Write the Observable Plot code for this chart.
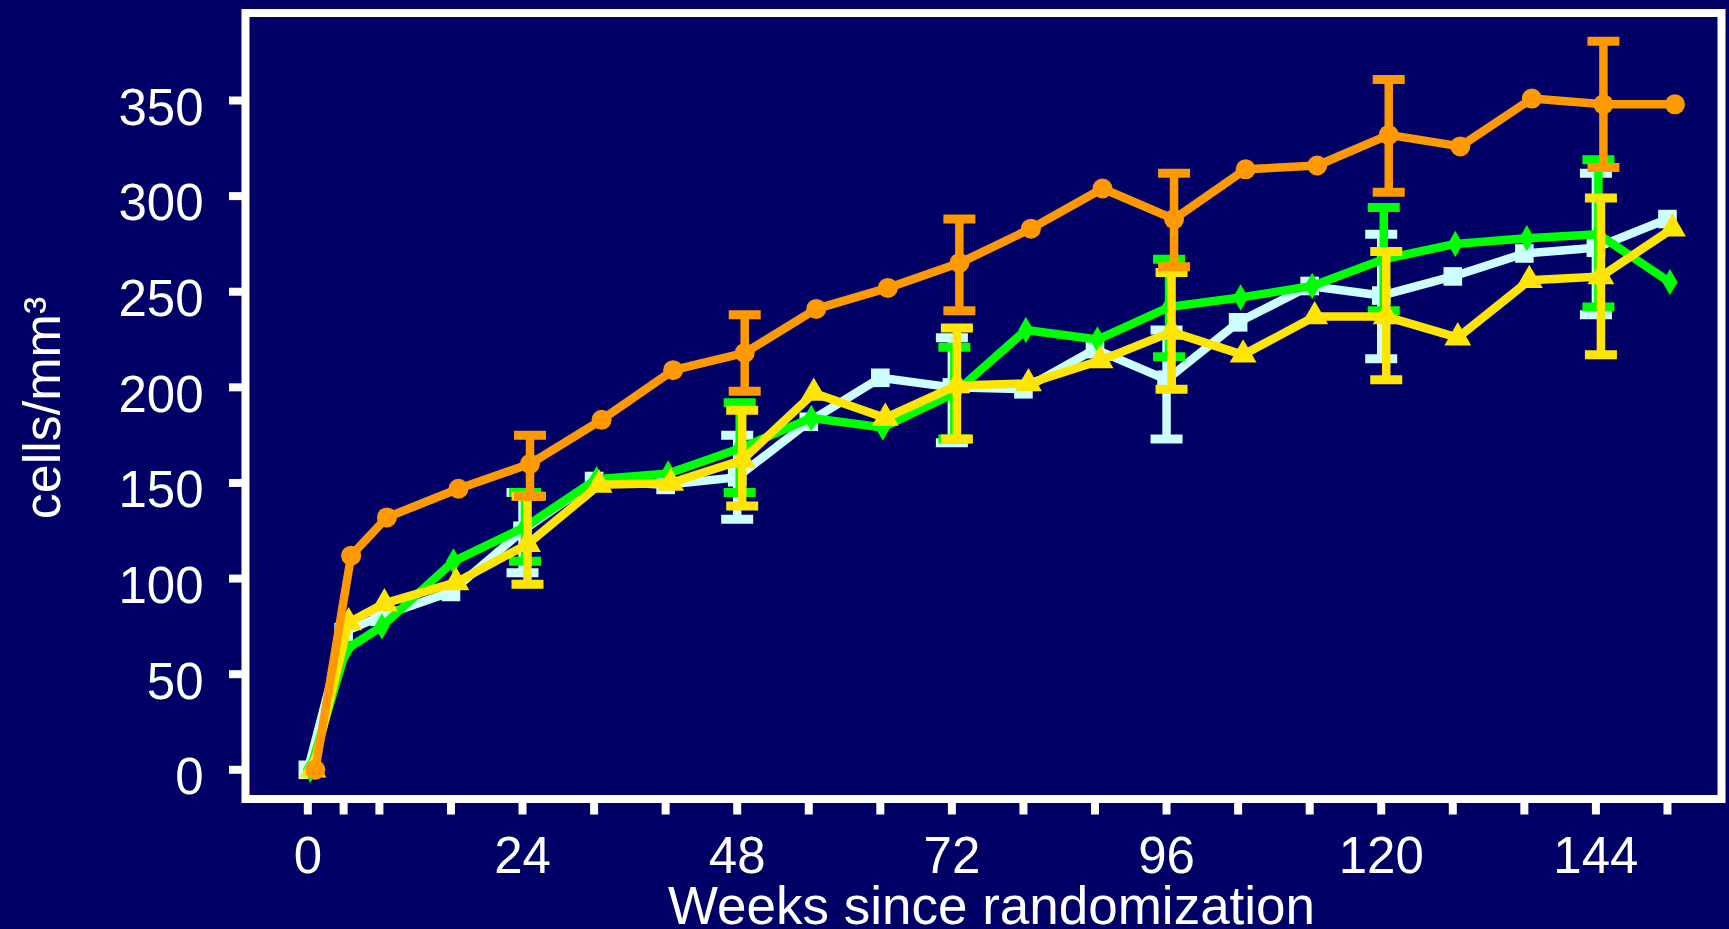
<!DOCTYPE html>
<html><head><meta charset="utf-8">
<script src="https://cdn.jsdelivr.net/npm/d3@7"></script>
<script src="https://cdn.jsdelivr.net/npm/@observablehq/plot@0.6"></script>
<style>html,body{margin:0;padding:0;background:#000066;overflow:hidden}</style>
</head><body><div id="chart"></div>
<script>
// Weeks since randomization
const weeks = [0,4,8,16,24,32,40,48,56,64,72,80,88,96,104,112,120,128,136,144,152];
const errWeeks = [24,48,72,96,120,144];
const tickWeeks = [0,4,8,16,24,32,40,48,56,64,72,80,88,96,104,112,120,128,136,144,152];
const labelWeeks = [0,24,48,72,96,120,144];
const yTicks = [0,50,100,150,200,250,300,350];

// Series values (cells/mm3)
const whiteVals  = [0,72,80,93,125,151,149,153,182,205,200,199,220,204,234,253,248,258,270,273,288];
const greenVals  = [0,63,75,109,127,152,155,168,184,179,197,230,225,242,247,253,267,275,278,280,255];
const yellowVals = [0,77,87,98,118,149,150,162,197,184,201,202,214,229,217,237,237,226,256,258,283];
const orangeVals = [0,112,132,147,160,183,209,218,241,252,265,283,304,288,314,316,332,326,351,348,348];

// Error bars (low / high) at errWeeks
const whiteLo  = [103,131,171,173,215,238];
const whiteHi  = [145,175,226,230,280,312];
const greenLo  = [109,145,173,216,240,242];
const greenHi  = [145,192,221,267,294,319];
const yellowLo = [97,138,173,199,204,217];
const yellowHi = [143,188,231,260,271,299];
const orangeLo = [143,198,240,263,302,315];
const orangeHi = [175,238,288,312,361,381];

const capSymbol = {draw(ctx, size) { const w = Math.sqrt(size / Math.PI); ctx.moveTo(-w, 0); ctx.lineTo(w, 0); }};

function series(vals, lo, hi, color, symbol, r, dx) {
  const rows = weeks.map((w, i) => ({week: w, value: vals[i]}));
  const bars = errWeeks.map((w, i) => ({week: w, lo: lo[i], hi: hi[i]}));
  return [
    Plot.line(rows, {x: "week", y: "value", stroke: color, strokeWidth: 8.5, dx, strokeLinejoin: "miter"}),
    Plot.ruleX(bars, {x: "week", y1: "lo", y2: "hi", stroke: color, strokeWidth: 8.5, dx}),
    Plot.dot(bars, {x: "week", y: "lo", symbol: capSymbol, r: 16, stroke: color, strokeWidth: 9, fill: "none", dx}),
    Plot.dot(bars, {x: "week", y: "hi", symbol: capSymbol, r: 16, stroke: color, strokeWidth: 9, fill: "none", dx}),
    Plot.dot(rows, {x: "week", y: "value", symbol, r, fill: color, stroke: "none", dx})
  ];
}

const font = "'Liberation Sans', Arial, Helvetica, sans-serif";

const chart = Plot.plot({
  width: 1729, height: 929,
  marginTop: 12.5, marginBottom: 130.5, marginLeft: 245, marginRight: 8,
  x: {domain: [-6.97, 158.04]},
  y: {domain: [-15.27, 395.76]},
  style: {background: "#000066", color: "white", fontFamily: font, overflow: "visible"},
  marks: [
    Plot.axisY({ticks: yTicks, tickSize: 16, tickPadding: 26, stroke: "white", strokeWidth: 8, fill: "none", label: null}),
    Plot.axisY({ticks: yTicks, tickSize: 16, tickPadding: 26, stroke: "none", fill: "white", fontSize: 51, dy: 8, label: null}),
    Plot.axisX({ticks: tickWeeks, tickSize: 16, stroke: "white", strokeWidth: 8, fill: "none", label: null, tickFormat: d => ""}),
    Plot.axisX({ticks: labelWeeks, tickSize: 16, tickPadding: 22, stroke: "none", fill: "white", fontSize: 51, label: null}),
    Plot.frame({stroke: "white", strokeWidth: 8}),
    ...series(whiteVals, whiteLo, whiteHi, "#ccffff", "square", 10.5, 0),
    ...series(greenVals, greenLo, greenHi, "#00ff00", "diamond", 8, 2.5),
    ...series(yellowVals, yellowLo, yellowHi, "#ffe600", "triangle", 10, 5),
    ...series(orangeVals, orangeLo, orangeHi, "#ff9900", "circle", 10, 7.5),
    Plot.text(["Weeks since randomization"], {frameAnchor: "bottom", lineAnchor: "bottom", textAnchor: "middle", dx: 8, dy: 124.5, fontSize: 53, fill: "white"}),
    Plot.text(["cells/mm³"], {frameAnchor: "left", lineAnchor: "bottom", textAnchor: "middle", rotate: -90, dx: -186, dy: 2, fontSize: 52, fill: "white"})
  ]
});
document.getElementById("chart").appendChild(chart);
</script></body></html>
